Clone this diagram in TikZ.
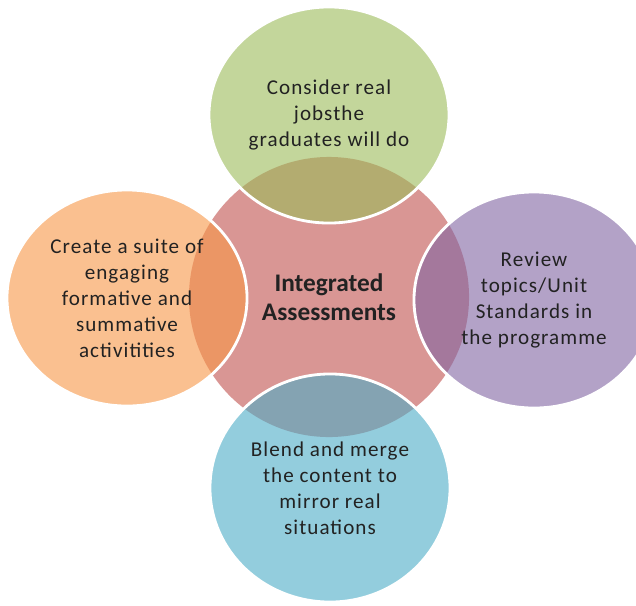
\documentclass[tikz,border=0pt]{standalone}
\usepackage{fontspec}
\setmainfont{Carlito}
\newfontfamily\loosefont{Carlito}[LetterSpace=5]
\usetikzlibrary{shapes.geometric}
\definecolor{accred}{HTML}{C0504D}
\definecolor{accgreen}{HTML}{9BBB59}
\definecolor{accorange}{HTML}{F79646}
\definecolor{accpurple}{HTML}{8064A2}
\definecolor{accaqua}{HTML}{4BACC6}
\definecolor{ink}{HTML}{222222}
\begin{document}
\begin{tikzpicture}[x=0.025cm, y=-0.025cm,
    hub/.style={circle, minimum size=7cm, fill=accred, fill opacity=0.6, text opacity=1,
        text=ink, align=center, font=\fontsize{18}{21}\selectfont\bfseries},
    bubble/.style={ellipse, minimum width=6cm, minimum height=5.4cm, inner sep=0pt,
        draw=white, line width=2pt, draw opacity=1, fill opacity=0.6, text opacity=1,
        text=ink, align=center, font=\loosefont\fontsize{15}{18.5}\selectfont}]
    \useasboundingbox (0,0) rectangle (636,605);
    \node[hub] (hub) at (329,297) {Integrated\\Assessments};
    \node[bubble, fill=accgreen] (jobs) at (329,115) {Consider real\\jobsthe\\graduates will do};
    \node[bubble, fill=accorange] (suite) at (127,298) {Create a suite of\\engaging\\formative and\\summative\\activitities};
    \node[bubble, fill=accpurple] (topics) at (534,300) {Review\\topics/Unit\\Standards in\\the programme};
    \node[bubble, fill=accaqua, minimum height=5.7cm] (blend) at (330,488) {Blend and merge\\the content to\\mirror real\\situations};
\end{tikzpicture}
\end{document}
